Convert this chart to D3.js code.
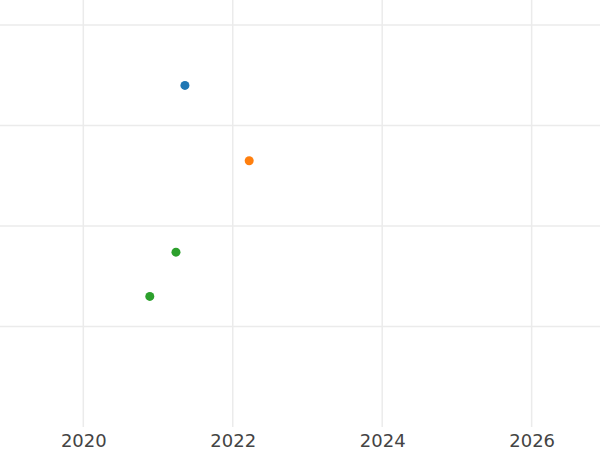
<!DOCTYPE html>
<meta charset="utf-8">
<style>
    body { margin: 0; background: #fff; }
    .grid line { stroke: #ebebeb; stroke-width: 1.5; }
    .tick text { font-family: "DejaVu Sans", sans-serif; font-size: 18px; fill: #444; }
</style>
<body>
<div id="chart"></div>
<script src="https://cdn.jsdelivr.net/npm/d3@7"></script>
<script>
    var width = 600,
        height = 450

    // data
    var years = [2021.36, 2022.22, 2021.24, 2020.89]
    var values = [3.40, 2.65, 1.74, 1.30]
    var groups = ["A", "B", "C", "C"]
    var xTicks = [2020, 2022, 2024, 2026]
    var yTicks = [1, 2, 3, 4]
    var colors = ["#1f77b4", "#ff7f0e", "#2ca02c"]

    var plotBottom = 427

    var x = d3.scaleLinear().domain([2018.885, 2026.915]).range([0, width])
    var y = d3.scaleLinear().domain([0, 4.25]).range([plotBottom, 0])
    var color = d3.scaleOrdinal().domain(["A", "B", "C"]).range(colors)

    var svg = d3.select("#chart").append("svg")
        .attr("width", width)
        .attr("height", height)

    svg.append("g").attr("class", "grid")
        .selectAll("line").data(yTicks).enter().append("line")
        .attr("x1", 0).attr("x2", width)
        .attr("y1", function (d) { return y(d) })
        .attr("y2", function (d) { return y(d) })

    svg.append("g").attr("class", "grid")
        .selectAll("line").data(xTicks).enter().append("line")
        .attr("y1", 0).attr("y2", plotBottom)
        .attr("x1", function (d) { return x(d) })
        .attr("x2", function (d) { return x(d) })

    var xAxis = svg.append("g")
        .attr("transform", "translate(0," + plotBottom + ")")
        .call(d3.axisBottom(x).tickValues(xTicks).tickFormat(d3.format("d")).tickSize(0).tickPadding(7))
    xAxis.select(".domain").remove()

    var pts = years.map(function (d, i) { return {x: d, y: values[i], g: groups[i]} })

    svg.append("g").selectAll("circle")
        .data(pts).enter().append("circle")
        .attr("cx", function (d) { return x(d.x) })
        .attr("cy", function (d) { return y(d.y) })
        .attr("r", 4.5)
        .attr("fill", function (d) { return color(d.g) })
</script>
</body>
